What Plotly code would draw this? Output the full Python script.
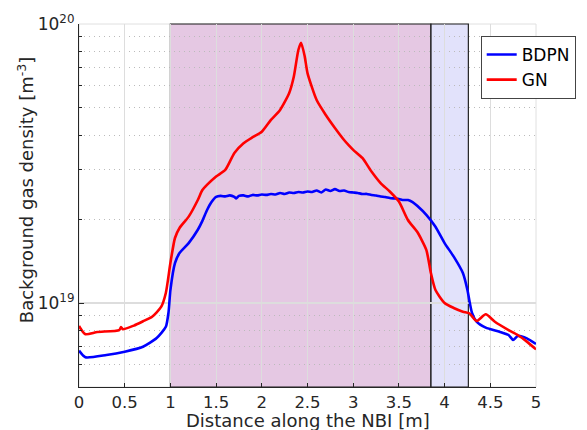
import plotly.graph_objects as go
import numpy as np

# ---- data (density in units of 1e19 m^-3) ----
gn_x = [0.0, 0.066, 0.2, 0.44, 0.46, 0.48, 0.6, 0.7, 0.8, 0.9, 0.95, 1.0, 1.05, 1.1, 1.2,
        1.3, 1.35, 1.4, 1.5, 1.6, 1.7, 1.8, 1.9, 2.0, 2.1, 2.2, 2.3, 2.35, 2.4, 2.43, 2.47,
        2.5, 2.6, 2.7, 2.8, 2.9, 2.95, 3.0, 3.1, 3.2, 3.3, 3.4, 3.5, 3.6, 3.7, 3.8, 3.85,
        3.9, 4.0, 4.1, 4.2, 4.27, 4.35, 4.45, 4.55, 4.7, 4.8, 4.9, 5.0]
gn_y = [0.827, 0.774, 0.787, 0.80, 0.82, 0.805, 0.83, 0.86, 0.893, 0.970, 1.086, 1.391, 1.71,
        1.857, 2.04, 2.34, 2.54, 2.65, 2.84, 3.00, 3.45, 3.74, 3.93, 4.11, 4.53, 4.92, 5.66,
        6.47, 8.07, 8.57, 7.64, 6.67, 5.34, 4.72, 4.24, 3.84, 3.68, 3.54, 3.31, 2.96, 2.69,
        2.51, 2.31, 1.98, 1.80, 1.55, 1.281, 1.113, 1.00, 0.960, 0.931, 0.919, 0.862, 0.911,
        0.857, 0.800, 0.768, 0.727, 0.682]

bdpn_x = [0.0, 0.07, 0.3, 0.5, 0.7, 0.85, 0.95, 0.98, 1.0, 1.05, 1.1, 1.2, 1.3, 1.35, 1.4,
          1.45, 1.50, 1.55, 1.60, 1.65, 1.70, 1.72, 1.75, 1.80, 1.85, 1.90, 1.95, 2.00, 2.05,
          2.10, 2.15, 2.20, 2.25, 2.30, 2.35, 2.40, 2.45, 2.50, 2.55, 2.60, 2.65, 2.70, 2.75,
          2.80, 2.85, 2.90, 2.95, 3.00, 3.05, 3.10, 3.15, 3.20, 3.25, 3.30, 3.35, 3.40, 3.45,
          3.50, 3.55, 3.60, 3.65, 3.70, 3.8, 3.9, 4.0, 4.1, 4.2, 4.25, 4.27, 4.3, 4.35, 4.45,
          4.6, 4.7, 4.75, 4.8, 4.9, 5.0]
bdpn_y = [0.675, 0.639, 0.651, 0.669, 0.697, 0.749, 0.822, 0.929, 1.113, 1.391, 1.51, 1.64,
          1.83, 1.97, 2.15, 2.30, 2.40, 2.42, 2.41, 2.43, 2.40, 2.37, 2.42, 2.43, 2.41, 2.44,
          2.43, 2.45, 2.44, 2.46, 2.45, 2.48, 2.46, 2.49, 2.48, 2.50, 2.49, 2.51, 2.50, 2.53,
          2.49, 2.55, 2.52, 2.56, 2.52, 2.53, 2.50, 2.49, 2.48, 2.46, 2.46, 2.44, 2.43, 2.41,
          2.40, 2.38, 2.37, 2.36, 2.34, 2.34, 2.30, 2.23, 2.07, 1.877, 1.64, 1.466, 1.281,
          1.113, 1.025, 0.921, 0.857, 0.816, 0.789, 0.768, 0.737, 0.762, 0.747, 0.713]

regions = [(1.0, 3.85, "rgba(203,145,199,0.5)"), (3.85, 4.26, "rgba(197,197,247,0.5)")]

x_title = "Distance along the NBI [m]"
y_title = "Background gas density [m<sup>-3</sup>]"

scale = 1e19
fig = go.Figure()
fig.add_trace(go.Scatter(x=bdpn_x, y=[v * scale for v in bdpn_y], mode="lines", name="BDPN",
                         line=dict(color="#0000ff", width=2.6, shape="spline", smoothing=0.6)))
fig.add_trace(go.Scatter(x=gn_x, y=[v * scale for v in gn_y], mode="lines", name="GN",
                         line=dict(color="#ff0000", width=2.6, shape="spline", smoothing=0.6)))

shapes = [dict(type="rect", xref="paper", yref="paper", x0=0, x1=1, y0=0, y1=1,
               line=dict(color="#e0e0e0", width=1), fillcolor="rgba(0,0,0,0)", layer="below")]
for x0, x1, c in regions:
    shapes.append(dict(type="rect", xref="x", yref="paper", x0=x0, x1=x1, y0=0, y1=1,
                       fillcolor=c, line=dict(color="#222222", width=1.2), layer="between"))

font = "DejaVu Sans, Verdana, sans-serif"
fig.update_layout(
    width=587, height=430,
    margin=dict(l=79, r=51, t=24, b=43, autoexpand=False),
    paper_bgcolor="white", plot_bgcolor="white",
    font=dict(family=font, size=17, color="#262626"),
    shapes=shapes,
    annotations=[
        dict(text=x_title, xref="paper", yref="paper", x=0.5, y=-0.092, xanchor="center",
             yanchor="middle", showarrow=False, font=dict(size=18, color="#262626")),
        dict(text=y_title, xref="paper", yref="paper", x=-0.116, y=0.545, xanchor="center",
             yanchor="middle", showarrow=False, textangle=-90,
             font=dict(size=18, color="#262626")),
    ],
    showlegend=True,
    legend=dict(x=0.879, y=0.967, xanchor="left", yanchor="top",
                bgcolor="white", bordercolor="#444444", borderwidth=1,
                font=dict(size=17, color="black"), tracegroupgap=0,
                itemwidth=30),
    xaxis=dict(range=[0, 5], dtick=0.5, tick0=0, showgrid=True, gridcolor="#dddddd",
               gridwidth=1, ticks="inside", ticklen=4, tickcolor="#262626",
               showline=True, linecolor="#262626", linewidth=1.2, zeroline=False,
               automargin=False, tickfont=dict(size=16.5)),
    yaxis=dict(type="log", range=[np.log10(5e18), 20], tickvals=[1e19, 1e20],
               ticktext=["10<sup>19</sup>", "10<sup>20</sup>"], showgrid=True,
               gridcolor="#dddddd", gridwidth=1.5, ticks="inside", ticklen=5,
               tickcolor="#262626", showline=True, linecolor="#262626", linewidth=1.2,
               zeroline=False, automargin=False,
               minor=dict(tickvals=[v * 1e18 for v in [6, 7, 8, 9]] +
                          [v * 1e19 for v in [2, 3, 4, 5, 6, 7, 8, 9]],
                          showgrid=True, gridcolor="#bbbbbb", griddash="1px,4px", gridwidth=1,
                          ticks="inside", ticklen=3, tickcolor="#262626"),
               tickfont=dict(size=17)),
)
fig.write_html("out.html")
